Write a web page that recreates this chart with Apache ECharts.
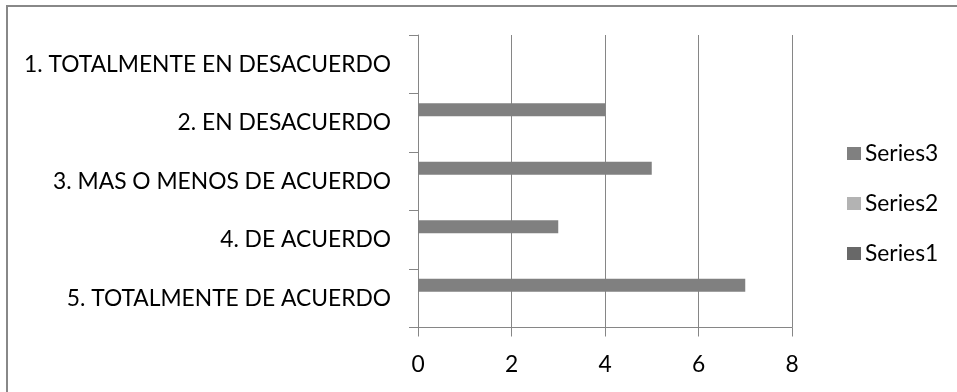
<!DOCTYPE html>
<html>
<head>
<meta charset="utf-8">
<script src="https://cdn.jsdelivr.net/npm/echarts@6/dist/echarts.min.js"></script>
<style>
  html, body { margin: 0; padding: 0; background: #fff; }
  #chart { width: 957px; height: 392px; }
</style>
</head>
<body>
<div id="chart"></div>
<script>
// Response categories (top to bottom)
const categories = [
  '1. TOTALMENTE EN DESACUERDO',
  '2. EN DESACUERDO',
  '3. MAS O MENOS DE ACUERDO',
  '4. DE ACUERDO',
  '5. TOTALMENTE DE ACUERDO'
];
// Counts per series
const series1 = [0, 0, 0, 0, 0];
const series2 = [0, 0, 0, 0, 0];
const series3 = [0, 4, 5, 3, 7];
const seriesNames = ['Series3', 'Series2', 'Series1'];
const xTicks = [0, 2, 4, 6, 8];

const FONT = 'Lato';
const FS = 22.8;
const axisGray = '#868686';

const chart = echarts.init(document.getElementById('chart'), null, { renderer: 'canvas' });

const barStyle = (name, data, color) => ({
  name: name,
  type: 'bar',
  data: data,
  barGap: '0%',
  barCategoryGap: '33.333%',
  itemStyle: { color: color },
  silent: true
});

chart.setOption({
  animation: false,
  backgroundColor: '#fff',
  textStyle: { fontFamily: FONT },
  graphic: [{
    type: 'rect',
    shape: { x: 7, y: 6, width: 1200, height: 1200 },
    style: { fill: 'none', stroke: '#888888', lineWidth: 2 },
    silent: true
  }],
  grid: { left: 418, top: 35, right: 165, bottom: 64.5, containLabel: false },
  legend: {
    orient: 'vertical',
    left: 842,
    top: 137,
    itemWidth: 14,
    itemHeight: 13,
    itemGap: 27,
    icon: 'rect',
    selectedMode: false,
    data: seriesNames,
    textStyle: { fontFamily: FONT, fontSize: FS, color: '#000', padding: [0, 0, 0, -1] }
  },
  xAxis: {
    type: 'value',
    min: xTicks[0],
    max: xTicks[xTicks.length - 1],
    interval: xTicks[1] - xTicks[0],
    axisLine: { show: true, lineStyle: { color: axisGray, width: 1 } },
    axisTick: { show: true, length: 9, lineStyle: { color: axisGray } },
    axisLabel: { fontFamily: FONT, fontSize: FS, color: '#000', margin: 26 },
    splitLine: { show: true, lineStyle: { color: axisGray, width: 1 } }
  },
  yAxis: {
    type: 'category',
    inverse: true,
    data: categories,
    axisLine: { show: true, lineStyle: { color: axisGray, width: 1 } },
    axisTick: { show: true, length: 9, lineStyle: { color: axisGray } },
    axisLabel: { fontFamily: FONT, fontSize: FS, color: '#000', margin: 27 },
    splitLine: { show: false }
  },
  series: [
    barStyle('Series3', series3, '#808080'),
    barStyle('Series2', series2, '#b3b3b3'),
    barStyle('Series1', series1, '#686868')
  ]
});
</script>
</body>
</html>
